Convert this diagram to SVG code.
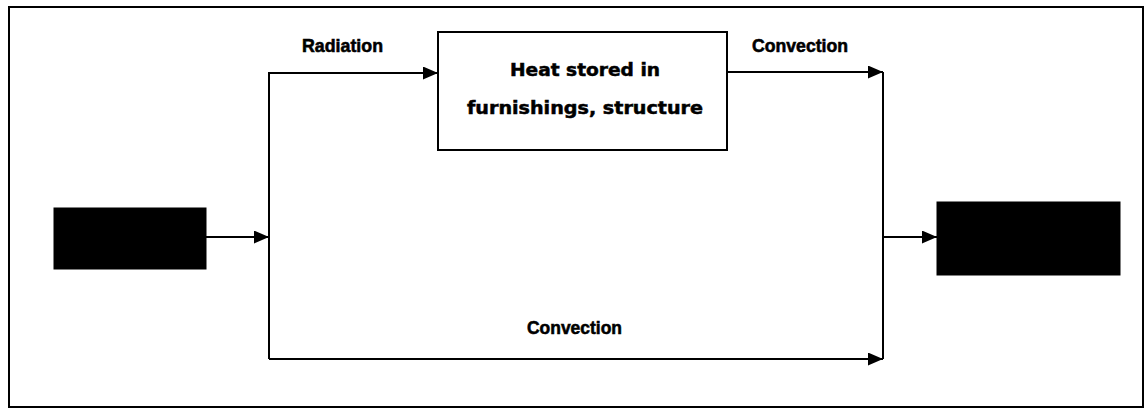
<svg xmlns="http://www.w3.org/2000/svg" width="1148" height="409" viewBox="0 0 1148 409">
<style>
.frame{fill:none;stroke:#000;stroke-width:2}
.box{fill:#fff;stroke:#000;stroke-width:2}
.dark{fill:#000;stroke:#000;stroke-width:1}
.conn{fill:none;stroke:#000;stroke-width:2}
.lbl{font-family:"Liberation Sans Narrow","Liberation Sans",Arial,sans-serif;font-weight:bold;font-size:19px;fill:#000;stroke:#000;stroke-width:0.6}
.heat{font-family:"DejaVu Sans","Liberation Sans",sans-serif;font-weight:900;font-size:17px;fill:#000;stroke:#000;stroke-width:0.5;text-anchor:middle}
</style>
<defs>
<marker id="arr" markerUnits="userSpaceOnUse" markerWidth="15" markerHeight="13" refX="15" refY="6.5" orient="auto">
<path d="M0,0 L15,6.5 L0,13 z" fill="#000"/>
</marker>
</defs>
<rect class="frame" x="9" y="7" width="1134" height="400"/>
<g id="source">
<rect class="dark" x="54" y="208" width="152" height="61"/>
</g>
<g id="storage">
<rect class="box" x="438" y="32" width="289" height="118"/>
<text class="heat" x="585" y="76" textLength="150" lengthAdjust="spacingAndGlyphs">Heat stored in</text>
<text class="heat" x="585" y="114" textLength="236" lengthAdjust="spacingAndGlyphs">furnishings, structure</text>
</g>
<g id="sink">
<rect class="dark" x="937" y="202" width="183" height="73"/>
</g>
<g id="connectors">
<path class="conn" d="M206,237 H269" marker-end="url(#arr)"/>
<path class="conn" d="M269,359 V73 H438" marker-end="url(#arr)"/>
<path class="conn" d="M269,359 H883" marker-end="url(#arr)"/>
<path class="conn" d="M727,72 H883" marker-end="url(#arr)"/>
<path class="conn" d="M883,72 V359"/>
<path class="conn" d="M883,237 H937" marker-end="url(#arr)"/>
<text class="lbl" x="302" y="52" textLength="81" lengthAdjust="spacingAndGlyphs">Radiation</text>
<text class="lbl" x="752" y="52" textLength="96" lengthAdjust="spacingAndGlyphs">Convection</text>
<text class="lbl" x="527" y="334" textLength="95" lengthAdjust="spacingAndGlyphs">Convection</text>
</g>
</svg>
